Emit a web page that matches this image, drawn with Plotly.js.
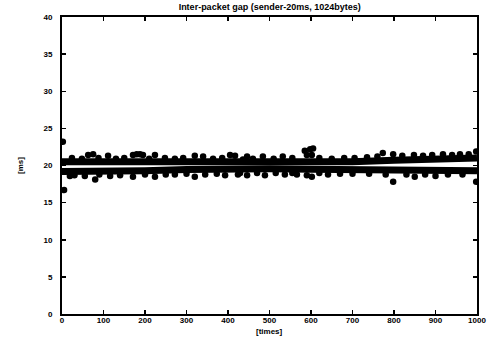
<!DOCTYPE html>
<html>
<head>
<meta charset="utf-8">
<script src="https://cdn.plot.ly/plotly-3.0.1.min.js"></script>
<style>html,body{margin:0;padding:0;background:#fff;}#chart{width:493px;height:341px;}</style>
</head>
<body>
<div id="chart"></div>
<script>
// Band centre lines
const bandX = [0, 100, 200, 300, 400, 500, 600, 700, 800, 900, 1000];
const upperBand = [20.5, 20.5, 20.45, 20.4, 20.35, 20.3, 20.4, 20.5, 20.7, 20.85, 21.0];
const lowerBand = [19.2, 19.2, 19.3, 19.45, 19.55, 19.55, 19.5, 19.4, 19.4, 19.35, 19.3];

// Packets on the upper edge of the bands
const edgeHighX = [24, 48, 88, 130, 150, 210, 248, 272, 292, 364, 386, 436, 460, 510, 555, 620, 650, 680, 705, 735, 760, 820, 870, 940, 980];
const edgeHighY = [21.0, 20.9, 21.0, 20.9, 21.0, 20.9, 21.0, 20.9, 21.0, 20.9, 21.0, 20.8, 20.9, 20.9, 21.0, 21.0, 20.9, 21.0, 21.0, 21.1, 21.2, 21.3, 21.3, 21.4, 21.5];

// Packets on the lower edge of the bands
const edgeLowX = [30, 90, 140, 200, 250, 272, 300, 373, 429, 470, 515, 555, 620, 670, 700, 740, 780, 830, 875, 930, 965];
const edgeLowY = [18.7, 18.8, 18.7, 18.8, 18.8, 18.8, 18.9, 18.9, 19.0, 19.0, 19.0, 19.0, 19.0, 18.9, 18.9, 18.9, 18.8, 18.8, 18.8, 18.8, 18.8];

// Outlier packets above the bands
const highX = [2, 63, 75, 111, 171, 180, 188, 195, 224, 320, 340, 405, 417, 446, 484, 532, 585, 590, 598, 602, 605, 773, 798, 848, 892, 918, 959, 998];
const highY = [23.2, 21.4, 21.5, 21.3, 21.4, 21.5, 21.5, 21.4, 21.4, 21.3, 21.2, 21.4, 21.3, 21.2, 21.2, 21.2, 22.0, 21.4, 22.2, 21.4, 22.3, 21.7, 21.5, 21.4, 21.4, 21.5, 21.5, 21.9];

// Outlier packets below the bands
const lowX = [5, 19, 55, 80, 116, 171, 224, 320, 345, 393, 424, 446, 489, 537, 566, 590, 602, 641, 798, 850, 900, 998];
const lowY = [16.7, 18.6, 18.6, 18.1, 18.6, 18.5, 18.5, 18.5, 18.8, 18.7, 18.8, 18.7, 18.7, 18.8, 18.8, 18.7, 18.5, 18.8, 17.8, 18.5, 18.6, 17.8];

const xTicks = [0, 100, 200, 300, 400, 500, 600, 700, 800, 900, 1000];
const yTicks = [0, 5, 10, 15, 20, 25, 30, 35, 40];

const fnt = {family: 'Liberation Sans, Arial, sans-serif', size: 8, color: '#000', weight: 'bold'};
const titleFnt = Object.assign({}, fnt, {size: 9});

const dot = {color: '#000', size: 6.5};
const traces = [
  {x: bandX, y: upperBand, mode: 'lines', line: {color: '#000', width: 7}, hoverinfo: 'skip'},
  {x: bandX, y: lowerBand, mode: 'lines', line: {color: '#000', width: 7}, hoverinfo: 'skip'},
  {x: edgeHighX, y: edgeHighY, mode: 'markers', marker: dot},
  {x: edgeLowX, y: edgeLowY, mode: 'markers', marker: dot},
  {x: highX, y: highY, mode: 'markers', marker: dot},
  {x: lowX, y: lowY, mode: 'markers', marker: dot}
];

const axisCommon = {
  showgrid: false, zeroline: false, showline: true, linecolor: '#000', linewidth: 2,
  mirror: 'ticks', ticks: 'inside', ticklen: 4, tickwidth: 1.5, tickcolor: '#000',
  tickfont: fnt
};

const layout = {
  width: 493, height: 341,
  margin: {l: 62, r: 16, t: 17, b: 27},
  paper_bgcolor: '#fff', plot_bgcolor: '#fff',
  showlegend: false,
  title: {text: 'Inter-packet gap (sender-20ms, 1024bytes)', font: titleFnt, x: 0.547, xanchor: 'center', y: 0.99, yanchor: 'top'},
  xaxis: Object.assign({}, axisCommon, {
    range: [0, 1000], tickvals: xTicks, ticktext: xTicks.map(String),
    ticklabelstandoff: -3
  }),
  yaxis: Object.assign({}, axisCommon, {
    range: [0, 40], tickvals: yTicks, ticktext: yTicks.map(String),
    ticklabelstandoff: 6,
    title: {text: '[ms]', font: fnt, standoff: 19}
  }),
  annotations: [
    {text: '[times]', xref: 'paper', yref: 'paper', x: 0.5, y: -0.058, xanchor: 'center', yanchor: 'middle', showarrow: false, font: fnt}
  ]
};

Plotly.newPlot('chart', traces, layout, {staticPlot: true, displayModeBar: false});
</script>
</body>
</html>
